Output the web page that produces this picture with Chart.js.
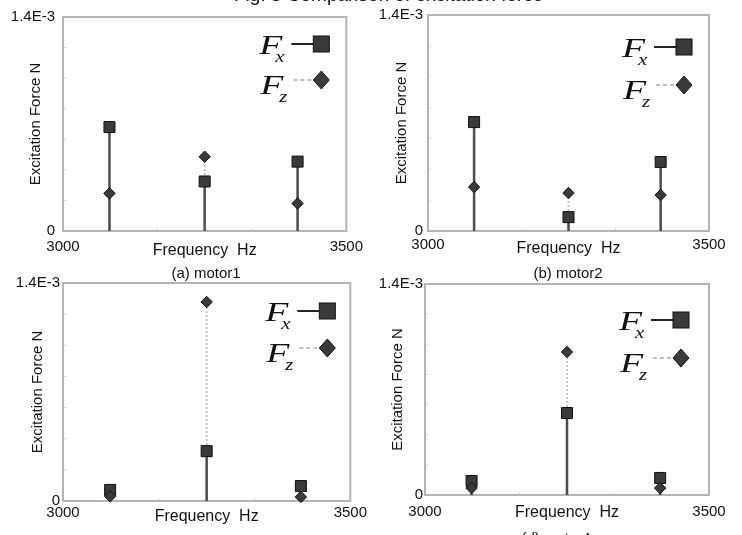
<!DOCTYPE html>
<html><head><meta charset="utf-8">
<script src="https://cdn.jsdelivr.net/npm/chart.js@4.4.1/dist/chart.umd.min.js"></script>
<style>
html,body{margin:0;padding:0;background:#fff;overflow:hidden;}
body{width:742px;height:535px;position:relative;font-family:"Liberation Sans",Arial,sans-serif;color:#111;}
.cv{position:absolute;z-index:1;}
.cap{position:absolute;font-size:15px;line-height:15px;white-space:nowrap;transform:translateX(-50%);z-index:5;}
#figtitle{position:absolute;left:234px;top:-15px;font-size:19px;line-height:19px;white-space:nowrap;z-index:5;}
</style></head><body>
<div id="figtitle">Fig. 3 Comparison of excitation force</div>
<div class="cv" style="left:0;top:0"><canvas id="c1" width="370" height="265"></canvas></div>
<div class="cv" style="left:370px;top:0"><canvas id="c2" width="372" height="265"></canvas></div>
<div class="cv" style="left:0;top:265px"><canvas id="c3" width="370" height="270"></canvas></div>
<div class="cv" style="left:370px;top:265px"><canvas id="c4" width="372" height="270"></canvas></div>
<div class="cap" style="left:206px;top:265px">(a) motor1</div>
<div class="cap" style="left:568px;top:265px">(b) motor2</div>
<div class="cap" style="left:556px;top:530px">(d) motor4</div>
<script>
// ---- data ----
const freqHz = [3082, 3250, 3414];
const motor1Fx = [0.680e-3, 0.324e-3, 0.454e-3];
const motor1Fz = [0.246e-3, 0.486e-3, 0.180e-3];
const motor2Fx = [0.706e-3, 0.090e-3, 0.447e-3];
const motor2Fz = [0.285e-3, 0.246e-3, 0.233e-3];
const motor3Fx = [0.071e-3, 0.320e-3, 0.096e-3];
const motor3Fz = [0.030e-3, 1.278e-3, 0.026e-3];
const motor4Fx = [0.093e-3, 0.544e-3, 0.113e-3];
const motor4Fz = [0.046e-3, 0.949e-3, 0.046e-3];
const xTickValues = [3000, 3166.67, 3333.33, 3500];
const xTickLabels = ['3000', '', '', '3500'];
const yTickValues = [0, 0.2e-3, 0.4e-3, 0.6e-3, 0.8e-3, 1.0e-3, 1.2e-3, 1.4e-3];
const yTickLabels = ['0', '', '', '', '', '', '', '1.4E-3'];
const xTitle = 'Frequency  Hz';
const yTitle = 'Excitation Force N';
const seriesNames = ['x', 'z'];

// ---- layout / style per panel ----
const FAM = '"Liberation Sans", Arial, sans-serif';
const panels = [
  {id:'c1', fx:motor1Fx, fz:motor1Fz, pt:15, pr:22, yw:63, ypad:8, ytp:27, xh:34, xpad:7, xtb:4.4, lg:{dx:25, dy1:27, dy2:63}},
  {id:'c2', fx:motor2Fx, fz:motor2Fz, pt:15, pr:33, yw:58, ypad:5, ytp:23, xh:34, xpad:5, xtb:6.4, lg:{dx:25, dy1:32, dy2:70}},
  {id:'c3', fx:motor3Fx, fz:motor3Fz, pt:18, pr:17, yw:63, ypad:3, ytp:29, xh:34, xpad:3, xtb:8.4, lg:{dx:23, dy1:28, dy2:65}},
  {id:'c4', fx:motor4Fx, fz:motor4Fz, pt:19, pr:33, yw:55, ypad:2, ytp:19, xh:40, xpad:8, xtb:12.4, lg:{dx:28, dy1:36, dy2:74}}
];

function stemData(f, v){
  const d = [];
  f.forEach((x, i) => { d.push({x:x, y:0}, {x:x, y:v[i]}, {x:x, y:null}); });
  return d;
}
function pointData(f, v){ return f.map((x, i) => ({x:x, y:v[i]})); }

const framePlugin = {
  id:'frame',
  beforeDatasetsDraw(chart){
    const {ctx, chartArea:a, scales} = chart;
    ctx.save();
    ctx.strokeStyle = '#d0d0d0';
    ctx.lineWidth = 1;
    scales.y.ticks.forEach(t => {
      const y = scales.y.getPixelForValue(t.value);
      ctx.beginPath(); ctx.moveTo(a.left, y); ctx.lineTo(a.left + 3, y); ctx.stroke();
    });
    scales.x.ticks.forEach(t => {
      const x = scales.x.getPixelForValue(t.value);
      ctx.beginPath(); ctx.moveTo(x, a.bottom); ctx.lineTo(x, a.bottom - 3); ctx.stroke();
    });
    ctx.strokeStyle = '#b4b4b4';
    ctx.lineWidth = 2;
    ctx.strokeRect(a.left, a.top, a.right - a.left, a.bottom - a.top);
    ctx.restore();
  }
};

function stretchedText(ctx, txt, x, y, font, sx){
  ctx.save();
  ctx.translate(x, y);
  ctx.scale(sx, 1);
  ctx.font = font;
  ctx.fillText(txt, 0, 0);
  ctx.restore();
}

const legendPlugin = {
  id:'fxlegend',
  afterDraw(chart, args, opts){
    const {ctx, chartArea:a} = chart;
    const mx = a.right - opts.dx;
    const y1 = a.top + opts.dy1, y2 = a.top + opts.dy2;
    const big = 'italic 28px "Liberation Serif", "DejaVu Serif", serif';
    const sub = 'italic 16px "Liberation Serif", "DejaVu Serif", serif';
    ctx.save();
    ctx.fillStyle = '#111';
    ctx.textBaseline = 'alphabetic';
    ctx.textAlign = 'left';
    stretchedText(ctx, 'F', mx - 62, y1 + 10, big, 1.35);
    stretchedText(ctx, seriesNames[0], mx - 46, y1 + 18, sub, 1.3);
    ctx.strokeStyle = '#222'; ctx.lineWidth = 2;
    ctx.beginPath(); ctx.moveTo(mx - 30, y1); ctx.lineTo(mx - 8, y1); ctx.stroke();
    ctx.fillStyle = '#3a3a3a'; ctx.strokeStyle = '#111'; ctx.lineWidth = 1;
    ctx.fillRect(mx - 8, y1 - 8, 16, 16); ctx.strokeRect(mx - 8, y1 - 8, 16, 16);
    ctx.fillStyle = '#111';
    stretchedText(ctx, 'F', mx - 61, y2 + 14, big, 1.35);
    stretchedText(ctx, seriesNames[1], mx - 42, y2 + 22, sub, 1.3);
    ctx.strokeStyle = '#aaa'; ctx.lineWidth = 1.5; ctx.setLineDash([4, 3]);
    ctx.beginPath(); ctx.moveTo(mx - 28, y2); ctx.lineTo(mx - 8, y2); ctx.stroke();
    ctx.setLineDash([]);
    ctx.fillStyle = '#3a3a3a'; ctx.strokeStyle = '#111'; ctx.lineWidth = 1;
    ctx.beginPath(); ctx.moveTo(mx - 8, y2); ctx.lineTo(mx, y2 - 9); ctx.lineTo(mx + 8, y2); ctx.lineTo(mx, y2 + 9); ctx.closePath();
    ctx.fill(); ctx.stroke();
    ctx.restore();
  }
};

panels.forEach(p => {
  new Chart(document.getElementById(p.id), {
    type:'line',
    data:{
      datasets:[
        {label:'Fz', data:pointData(freqHz, p.fz), showLine:false, pointStyle:'rectRot', pointRadius:5.7,
         pointBackgroundColor:'#3a3a3a', pointBorderColor:'#111', pointBorderWidth:1, clip:false},
        {label:'Fx', data:pointData(freqHz, p.fx), showLine:false, pointStyle:'rect', pointRadius:7.8,
         pointBackgroundColor:'#3a3a3a', pointBorderColor:'#111', pointBorderWidth:1, clip:false},
        {label:'Fx stem', data:stemData(freqHz, p.fx), borderColor:'#4d4d4d', borderWidth:2.5, pointRadius:0, spanGaps:false},
        {label:'Fz stem', data:stemData(freqHz, p.fz), borderColor:'#c4c4c4', borderWidth:2, borderDash:[2,2], pointRadius:0, spanGaps:false}
      ]
    },
    options:{
      responsive:false, animation:false, devicePixelRatio:1,
      layout:{padding:{left:0, top:p.pt, right:p.pr, bottom:0}},
      plugins:{legend:{display:false}, tooltip:{enabled:false}, fxlegend:p.lg},
      elements:{line:{tension:0}},
      scales:{
        x:{type:'linear', min:3000, max:3500,
           afterBuildTicks:s => { s.ticks = xTickValues.map(v => ({value:v})); },
           afterFit:s => { s.height = p.xh; },
           grid:{display:false, drawTicks:false}, border:{display:false},
           ticks:{padding:p.xpad, autoSkip:false, maxRotation:0, color:'#111', font:{size:15, family:FAM},
                  callback:(v, i) => xTickLabels[i]},
           title:{display:true, text:xTitle, color:'#111', font:{size:16, family:FAM}, padding:{top:0, bottom:p.xtb}}},
        y:{type:'linear', min:0, max:1.4e-3,
           afterBuildTicks:s => { s.ticks = yTickValues.map(v => ({value:v})); },
           afterFit:s => { s.width = p.yw; },
           grid:{display:false, drawTicks:false}, border:{display:false},
           ticks:{padding:p.ypad, autoSkip:false, color:'#111', font:{size:15, family:FAM},
                  callback:(v, i) => yTickLabels[i]},
           title:{display:true, text:yTitle, color:'#111', font:{size:15, family:FAM}, padding:{top:p.ytp, bottom:0}}}
      }
    },
    plugins:[framePlugin, legendPlugin]
  });
});
</script>
</body></html>
